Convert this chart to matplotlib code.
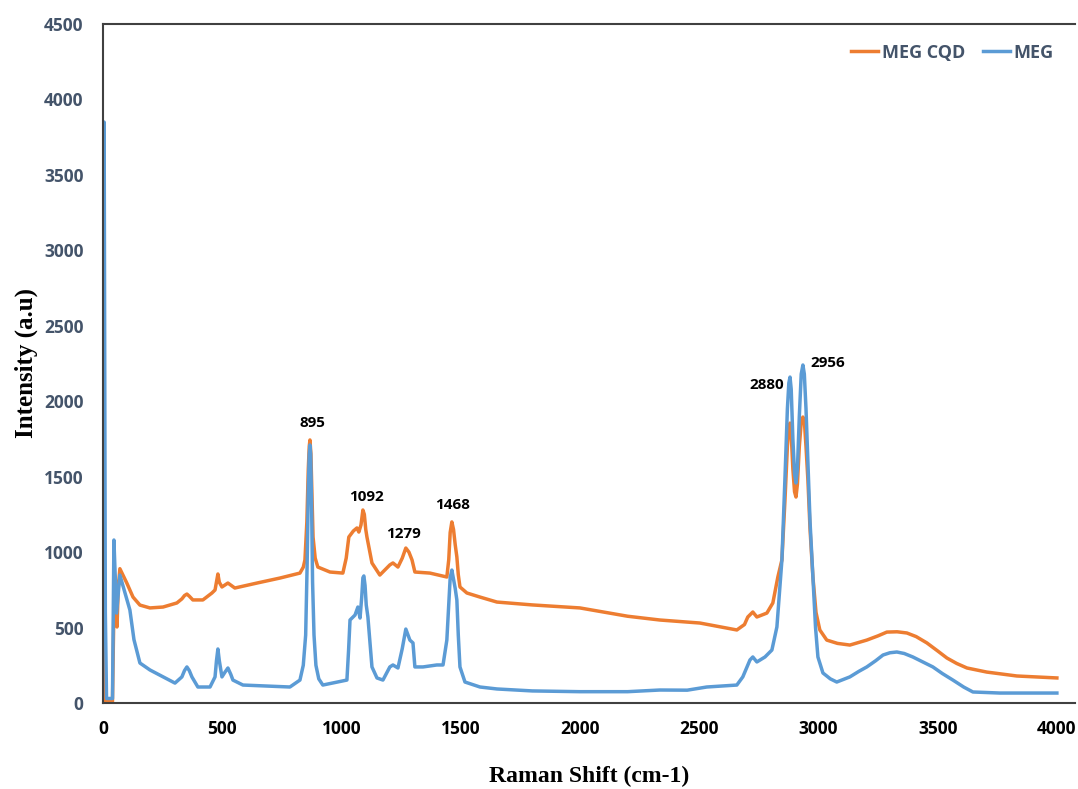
import matplotlib
matplotlib.use('Agg')
import matplotlib.pyplot as plt

# MEG CQD (orange)
cqd_x = [0, 4, 8, 40, 48, 54, 59, 64, 71, 100, 126, 155, 197, 252, 310, 331, 342, 352, 362, 377, 419, 457, 470,
         476, 482, 488, 499, 524, 553, 646, 742, 826, 840, 847, 855, 861, 865, 868, 872, 876, 881, 890, 901,
         952, 1006, 1020, 1031, 1050, 1065, 1073, 1082, 1090, 1096, 1102, 1107, 1128, 1161, 1203, 1216, 1237,
         1255, 1270, 1283, 1296, 1308, 1371, 1442, 1450, 1456, 1463, 1470, 1477, 1484, 1490, 1497, 1526,
         1581, 1652, 1800, 2000, 2200, 2335, 2503, 2658, 2690, 2704, 2725, 2742, 2784, 2809, 2830, 2847,
         2860, 2870, 2876, 2881, 2886, 2893, 2900, 2906, 2912, 2920, 2928, 2935, 2941, 2948, 2956, 2965,
         2977, 2990, 3006, 3035, 3080, 3132, 3203, 3250, 3287, 3330, 3371, 3410, 3455, 3500, 3539,
         3580, 3623, 3706, 3832, 4000]
cqd_y = [1500, 20, 10, 10, 850, 800, 504, 760, 890, 795, 702, 649, 630, 636, 663, 690, 712, 722, 708, 683, 683, 729, 749,
         800, 855, 800, 769, 795, 762, 795, 828, 861, 900, 948, 1200, 1550, 1700, 1743, 1650, 1400, 1100, 960, 901,
         868, 861, 960, 1100, 1140, 1160, 1133, 1180, 1279, 1250, 1150, 1100, 928, 848, 915, 928, 901,
         960, 1027, 1000, 948, 868, 861, 835, 950, 1130, 1200, 1150, 1050, 968, 850, 769, 729,
         702, 669, 650, 630, 575, 550, 530, 484, 520, 570, 603, 570, 596, 663, 835, 948,
         1350, 1700, 1830, 1855, 1780, 1550, 1400, 1365, 1450, 1700, 1860, 1895, 1870, 1700, 1478, 1150,
         835, 600, 484, 417, 395, 384, 417, 445, 470, 472, 464, 440, 398, 345, 298,
         262, 232, 205, 179, 166]

# MEG (blue)
meg_x = [0, 5, 10, 15, 40, 46, 57, 71, 113, 130, 155, 197, 252, 302, 331, 342, 352, 362, 373, 398, 449, 470,
         476, 482, 488, 499, 512, 524, 536, 545, 587, 784, 826, 840, 850, 856, 861, 865, 868, 871, 875, 879,
         885, 893, 905, 922, 1023, 1030, 1036, 1057, 1069, 1078, 1085, 1090, 1094, 1099, 1104, 1111, 1128,
         1149, 1174, 1203, 1216, 1237, 1255, 1270, 1287, 1300, 1308, 1342, 1400, 1426, 1442, 1450, 1456,
         1463, 1470, 1477, 1484, 1490, 1497, 1518, 1581, 1652, 1800, 2000, 2200, 2335, 2450, 2532, 2658,
         2683, 2713, 2725, 2742, 2776, 2805, 2826, 2847, 2860, 2870, 2876, 2881, 2886, 2893, 2900, 2906,
         2912, 2920, 2928, 2935, 2941, 2948, 2956, 2965, 2977, 2988, 2998, 3019, 3050, 3077, 3132, 3170,
         3203, 3240, 3271, 3300, 3329, 3360, 3396, 3440, 3480, 3520, 3564, 3610, 3648, 3761, 4000]
meg_y = [1500, 3850, 600, 30, 30, 1080, 596, 848, 616, 420, 265, 219, 173, 132, 173, 215, 239, 215, 173, 106, 106, 173,
         280, 358, 280, 173, 205, 232, 190, 152, 119, 106, 152, 250, 450, 900, 1400, 1650, 1710, 1650, 1300, 800,
         450, 250, 160, 119, 152, 350, 550, 583, 636, 563, 700, 830, 842, 780, 650, 570, 239,
         166, 152, 239, 252, 232, 360, 490, 417, 398, 239, 239, 252, 252, 417, 650, 830,
         881, 820, 760, 683, 450, 239, 139, 106, 93, 80, 75, 75, 86, 85, 106, 119,
         173, 285, 305, 272, 305, 351, 504, 948, 1500, 1950, 2120, 2160, 2080, 1750, 1520, 1458,
         1550, 1900, 2180, 2240, 2180, 1950, 1590, 1200, 835, 500, 305, 199, 160, 139, 173, 210,
         239, 280, 318, 333, 338, 328, 305, 270, 239, 195, 152, 105, 73, 66, 66]

# peak labels
peak_labels = ['895', '1092', '1279', '1468', '2880', '2956']
label_x = [880, 1107, 1262, 1468, 2784, 3040]
label_y = [1855, 1365, 1120, 1312, 2107, 2253]

slate = '#44546A'

fig = plt.figure(figsize=(10.78, 7.89), dpi=100)
ax = fig.add_axes([0.0955, 0.109, 0.9015, 0.8606])
ax.plot(cqd_x, cqd_y, color='#ED7D31', lw=2.5, label='MEG CQD')
ax.plot(meg_x, meg_y, color='#5B9BD5', lw=2.5, label='MEG')

for t, x, y in zip(peak_labels, label_x, label_y):
    ax.text(x, y, t, ha='center', va='center', fontsize=11, fontweight='bold',
            family='Open Sans', color='black')

ax.set_xlim(0, 4075)
ax.set_ylim(0, 4500)
ax.set_xticks(range(0, 4001, 500))
ax.set_yticks(range(0, 4501, 500))
ax.tick_params(axis='x', length=0, pad=12)
ax.tick_params(axis='y', length=0, pad=14)
for lab in ax.get_xticklabels():
    lab.set_fontsize(12.5); lab.set_fontweight('bold'); lab.set_family('Open Sans'); lab.set_color('black')
for lab in ax.get_yticklabels():
    lab.set_fontsize(12.5); lab.set_fontweight('bold'); lab.set_family('Open Sans'); lab.set_color(slate)

ax.spines['right'].set_visible(False)
for s in ['left', 'top', 'bottom']:
    ax.spines[s].set_color('#404040')
    ax.spines[s].set_linewidth(1.5)

ax.set_xlabel('Raman Shift (cm-1)', fontsize=17, fontweight='bold', family='Liberation Serif', labelpad=20)
ax.set_ylabel('Intensity (a.u)', fontsize=18, fontweight='bold', family='Liberation Serif', labelpad=4)

leg = ax.legend(loc='upper right', ncol=2, frameon=False, handlelength=1.5, handletextpad=0.2,
                columnspacing=1.0, bbox_to_anchor=(0.995, 0.995),
                prop={'family': 'Open Sans', 'weight': 'bold', 'size': 13})
for t in leg.get_texts():
    t.set_color(slate)

fig.savefig('out.png', dpi=100)
